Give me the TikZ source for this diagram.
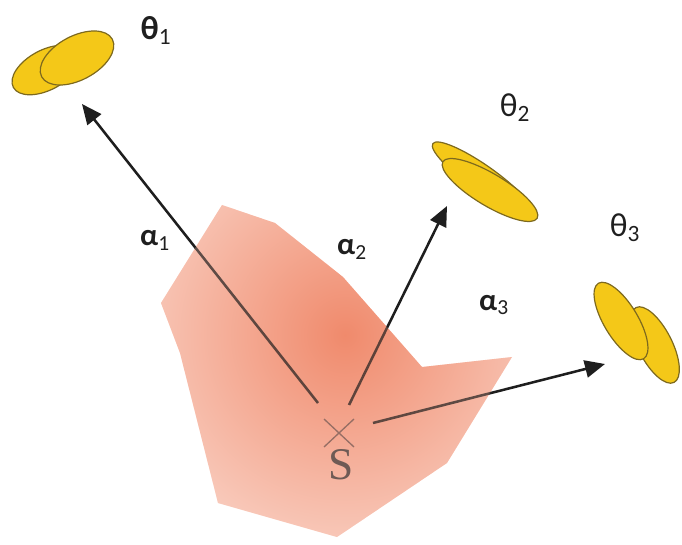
\documentclass[tikz,border=0pt]{standalone}
\usepackage{fontspec}
\setmainfont{Carlito}
\newfontfamily\sfont{Liberation Serif}
\usetikzlibrary{arrows.meta,calc}
\definecolor{blobin}{RGB}{240,138,108}
\definecolor{blobout}{RGB}{251,222,212}
\definecolor{yel}{RGB}{244,200,24}
\definecolor{yeledge}{RGB}{125,105,30}
\definecolor{arrowc}{RGB}{30,30,30}
\definecolor{crossc}{RGB}{150,110,100}
\definecolor{sc}{RGB}{110,90,85}
\tikzset{
  blob/.style={draw=yeledge, fill=yel, line width=0.9pt},
  ray/.style={draw=arrowc, line width=1.9pt, -{Triangle[length=15pt,width=13pt]}},
  lab/.style={text=black!88, font=\fontsize{23}{25}\selectfont, inner sep=0pt},
  thlab/.style={text=black!88, font=\fontsize{25}{27}\selectfont, inner sep=0pt},
  region/.style={inner color=blobin, outer color=blobout},
}
\begin{document}
\begin{tikzpicture}[x=0.75pt,y=-0.75pt]
\useasboundingbox (0,0) rectangle (682,545);
% ellipses
\draw[blob, rotate around={28:(46,70)}] (46,70) ellipse [x radius=37, y radius=20];
\draw[blob, rotate around={28:(77,58)}] (77,58) ellipse [x radius=40, y radius=22];
\draw[blob, rotate around={-35:(482,178)}] (482,178) ellipse [x radius=60, y radius=13];
\draw[blob, rotate around={-31:(490,190)}] (490,190) ellipse [x radius=55, y radius=16];
\draw[blob, rotate around={-63:(655,345)}] (655,345) ellipse [x radius=42, y radius=17];
\draw[blob, rotate around={-59:(621,321)}] (621,321) ellipse [x radius=44, y radius=17];
% shaded region
\begin{scope}
\clip (222,205) -- (275,223) -- (343,277) -- (422,367) -- (512,357) -- (447,463) -- (337,537) -- (218,503) -- (180,353) -- (161,303) -- cycle;
\shade[region] (345,335) circle (280);
\end{scope}
% arrow coordinates
\coordinate (s1) at (318,403);
\coordinate (s2) at (349,405);
\coordinate (s3) at (373,423);
\coordinate (t1) at (82,104);
\coordinate (t2) at (447,206);
\coordinate (t3) at (605,364);
\draw[ray] (s1) -- (t1);
\draw[ray] (s2) -- (t2);
\draw[ray] (s3) -- (t3);
% light tint over the rays inside the region
\begin{scope}
\clip (222,205) -- (275,223) -- (343,277) -- (422,367) -- (512,357) -- (447,463) -- (337,537) -- (218,503) -- (180,353) -- (161,303) -- cycle;
\shade[region, opacity=0.3] (345,335) circle (280);
\end{scope}
% source
\coordinate (S) at (339,433);
\draw[crossc, line width=1pt] ($(S)+(-15,-14)$) -- ($(S)+(15,14)$);
\draw[crossc, line width=1pt] ($(S)+(-15,14)$) -- ($(S)+(15,-14)$);
\node[text=sc, font=\sfont\fontsize{34}{36}\selectfont, inner sep=0pt] (Slab) at (341,465) {S};
% labels
\node[thlab] (th1) at (156,30) {\textbf{θ}\textsubscript{1}};
\node[thlab] (th2) at (515,108) {θ\textsubscript{2}};
\node[thlab] (th3) at (625,228) {θ\textsubscript{3}};
\node[lab] (a1) at (155,240) {\textbf{α}\textsubscript{1}};
\node[lab] (a2) at (352,249) {\textbf{α}\textsubscript{2}};
\node[lab] (a3) at (494,305) {\textbf{α}\textsubscript{3}};
\end{tikzpicture}
\end{document}
